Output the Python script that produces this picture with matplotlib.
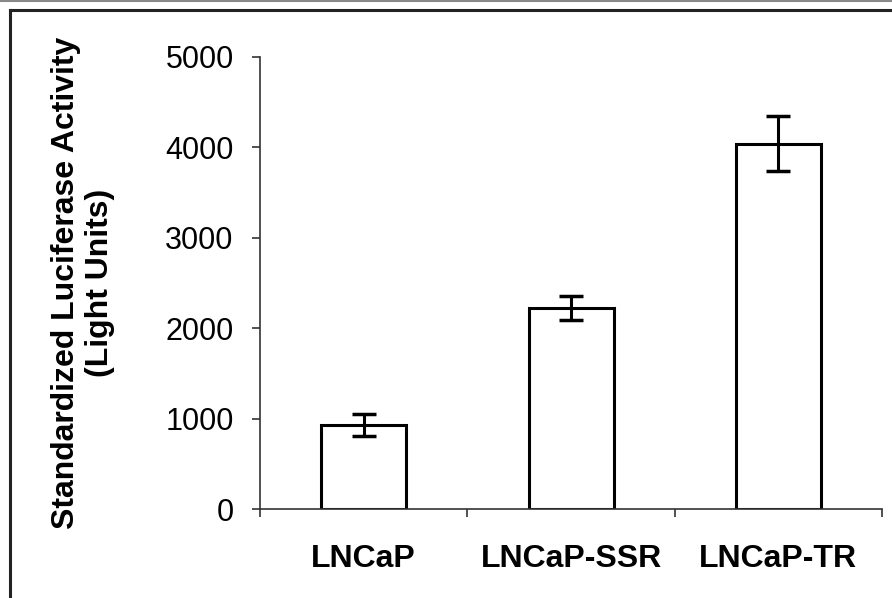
import matplotlib
matplotlib.use('Agg')
import matplotlib.pyplot as plt
import numpy as np

plt.rcParams['font.family'] = ['Liberation Sans', 'DejaVu Sans']

categories = ['LNCaP', 'LNCaP-SSR', 'LNCaP-TR']
activity = [930, 2225, 4040]
errors = [120, 130, 305]
yticks = [0, 1000, 2000, 3000, 4000, 5000]

fig = plt.figure(figsize=(8.92, 5.98), dpi=100)
ax = fig.add_axes([0.2915, 0.1488, 0.6973, 0.7559])

x = np.arange(len(categories))
ax.bar(x, activity, width=0.41, color='white', edgecolor='black', linewidth=2.2, zorder=2)
ax.errorbar(x, activity, yerr=errors, fmt='none', ecolor='black', elinewidth=2.2,
            capsize=8.5, capthick=2.5, zorder=3)

ax.set_xlim(-0.5, len(categories) - 0.5)
ax.set_ylim(0, 5000)
ax.set_yticks(yticks)
ax.set_yticklabels([str(v) for v in yticks], fontsize=22)
ax.set_xticks(x)
ax.set_xticklabels(categories, fontsize=23, fontweight='bold')
ax.set_xticks(np.arange(len(categories) + 1) - 0.5, minor=True)
ax.tick_params(axis='x', which='major', length=0, pad=25)
ax.tick_params(axis='x', which='minor', length=6, width=1.2, color='#333333', direction='out')
ax.tick_params(axis='y', length=6, width=1.2, color='#333333', pad=13)

for s in ['top', 'right']:
    ax.spines[s].set_visible(False)
for s in ['left', 'bottom']:
    ax.spines[s].set_linewidth(1.2)
    ax.spines[s].set_color('#333333')

ax.set_ylabel('Standardized Luciferase Activity\n(Light Units)', fontsize=23,
              fontweight='bold', linespacing=1.2, labelpad=36)

# figure frame
fig.add_artist(plt.Line2D([10/892, 10/892], [0, 1 - 10/598], color='#222222', lw=2.2,
                          transform=fig.transFigure))
fig.add_artist(plt.Line2D([10/892, 1], [1 - 10/598, 1 - 10/598], color='#222222', lw=2.2,
                          transform=fig.transFigure))
fig.add_artist(plt.Line2D([0, 1], [1 - 1/598, 1 - 1/598], color='#888888', lw=1.5,
                          transform=fig.transFigure))

fig.savefig('out.png', dpi=100)
plt.close()
